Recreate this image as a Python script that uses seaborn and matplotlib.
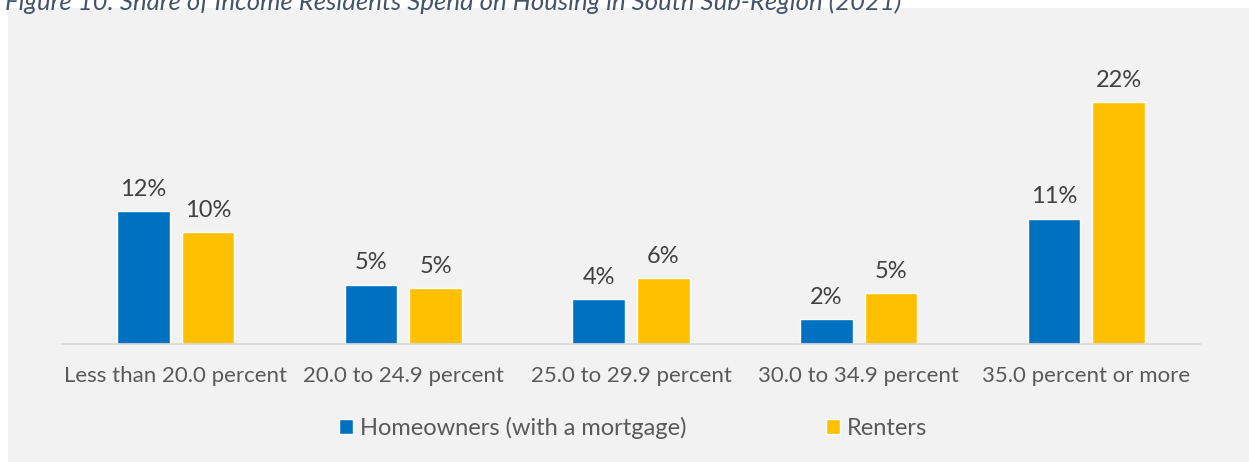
import numpy as np
import pandas as pd
import matplotlib.pyplot as plt
import seaborn as sns
from matplotlib.patches import Rectangle

# data
categories = ["Less than 20.0 percent", "20.0 to 24.9 percent", "25.0 to 29.9 percent",
              "30.0 to 34.9 percent", "35.0 percent or more"]
homeowners = [12.1, 5.4, 4.1, 2.3, 11.4]
renters = [10.2, 5.1, 6.0, 4.6, 22.0]
series = ["Homeowners (with a mortgage)", "Renters"]
colors = ["#0070C0", "#FFC000"]
title = "Figure 10: Share of Income Residents Spend on Housing in South Sub-Region (2021)"

df = pd.DataFrame({
    "category": categories * 2,
    "value": homeowners + renters,
    "series": [series[0]] * 5 + [series[1]] * 5,
})

sns.set_style("white")
plt.rcParams["font.family"] = ["Lato", "DejaVu Sans"]

fig = plt.figure(figsize=(12.49, 4.62), dpi=100)
# grey chart area
fig.patches.append(Rectangle((8 / 1249, 0), 1 - 8 / 1249, 1 - 8 / 462,
                             transform=fig.transFigure, facecolor="#F2F2F2",
                             edgecolor="none", zorder=-5))
# title, cut off at the top edge as in the source
fig.text(0.004, 1.0 + 0.02, title, ha="left", va="top", fontsize=18.5,
         style="italic", color="#44546A")

ax = fig.add_axes([62 / 1249, 118 / 462, 1138 / 1249, 275 / 462])
ax.set_facecolor("none")
ax.set_zorder(2)

sns.barplot(data=df, x="category", y="value", hue="series", palette=colors,
            width=0.567, gap=0.186, ax=ax, legend=False, saturation=1)

for cont in ax.containers:
    ax.bar_label(cont, labels=[f"{v:.0f}%" for v in cont.datavalues],
                 padding=8, fontsize=17, color="#404040")

ax.set_ylim(0, 25)
ax.set_xlim(-0.5, 4.5)
ax.set_xlabel("")
ax.set_ylabel("")
ax.set_yticks([])
ax.tick_params(axis="x", length=0, pad=16, labelsize=16, labelcolor="#595959")
for s in ["top", "right", "left"]:
    ax.spines[s].set_visible(False)
ax.spines["bottom"].set_color("#D9D9D9")
ax.spines["bottom"].set_linewidth(1.2)

handles = [Rectangle((0, 0), 1, 1, facecolor=c) for c in colors]
fig.legend(handles, series, loc="center", bbox_to_anchor=(0.507, 34 / 462),
           ncol=2, frameon=False, fontsize=17, labelcolor="#595959",
           handlelength=0.6, handleheight=0.6, handletextpad=0.3,
           columnspacing=5.9)

fig.savefig("out.png", dpi=100)
